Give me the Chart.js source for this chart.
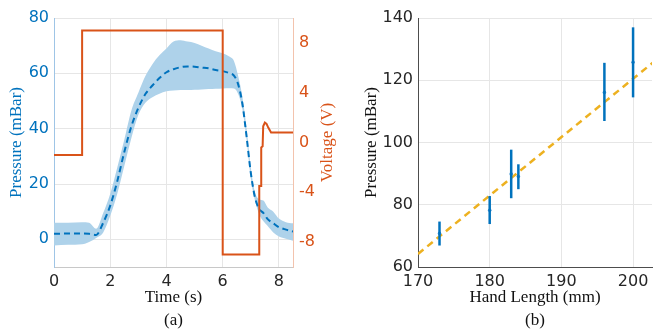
<!DOCTYPE html>
<html>
<head>
<meta charset="utf-8">
<script src="https://cdn.jsdelivr.net/npm/chart.js@4.4.1/dist/chart.umd.min.js"></script>
<style>
  html, body { margin: 0; padding: 0; background: #fff; }
  #wrap { position: relative; width: 656px; height: 330px; overflow: hidden; }
  #chartA { position: absolute; left: 0; top: 0; }
  #chartB { position: absolute; left: 330px; top: 0; }
</style>
</head>
<body>
<div id="wrap">
  <canvas id="chartA" width="345" height="330"></canvas>
  <canvas id="chartB" width="326" height="330"></canvas>
</div>
<script>
// (a) pressure over time, mean with spread band
const time = [0, 0.5, 1.0, 1.25, 1.5, 1.75, 2.0, 2.25, 2.5, 2.75, 3.0, 3.25, 3.5, 3.75, 4.0, 4.25, 4.5, 4.75, 5.0, 5.25, 5.5, 5.75, 6.0, 6.25, 6.4, 6.55, 6.7, 6.85, 7.0, 7.15, 7.3, 7.45, 7.6, 7.8, 8.0, 8.25, 8.5]
const pressureMean = [2.0, 2.1, 2.1, 2.0, 1.6, 6.0, 12.2, 21, 31.6, 40.8, 47.5, 52.5, 55.6, 58.3, 60.4, 61.5, 62.2, 62.5, 62.4, 62.1, 61.8, 61.2, 60.8, 60, 59.2, 56, 49, 37, 24, 15, 11, 9.5, 7.3, 5.8, 4.4, 3.5, 2.8]
const pressureUpper = [6.0, 6.0, 6.2, 6.0, 3.8, 9.5, 16.5, 26, 36, 46.5, 53, 59, 63.3, 66.5, 69, 71.5, 72, 71.5, 71, 70, 69, 68, 67.3, 66, 64.5, 59, 51.5, 40, 26, 17, 14.5, 14, 11.5, 10, 7.5, 6.2, 5.8]
const pressureLower = [-2.2, -2.0, -1.8, -1.0, 0.5, 2.5, 8.5, 16.5, 26.5, 36.5, 45, 49.4, 51.4, 52.6, 53.5, 53.8, 54, 54, 54.1, 54.2, 54.3, 54.4, 54.5, 54.6, 54.5, 52.5, 47, 36, 22, 14, 9, 6.5, 4.8, 2.5, 1.0, 0.2, -0.5]
const voltTime = [0, 1.0, 1.0, 6.0, 6.0, 7.3, 7.3, 7.37, 7.37, 7.42, 7.44, 7.5, 7.56, 7.62, 7.72, 8.5]
const voltage = [-1, -1, 9, 9, -9, -9, -3.5, -3.5, -0.4, -0.3, 1.3, 1.6, 1.5, 1.2, 0.8, 0.8]
const timeTicks = [0, 2, 4, 6, 8]
const pressureTicks = [0, 20, 40, 60, 80]
const voltTicks = [-8, -4, 0, 4, 8]

// (b) pressure against hand length
const handLength = [173, 180, 183, 184, 196, 200]
const pressMean = [70.8, 78.2, 89.9, 89.1, 116.1, 125.8]
const pressLow = [66.9, 73.8, 82.1, 85.0, 106.9, 114.5]
const pressHigh = [74.6, 82.8, 97.7, 93.0, 125.6, 137.0]
const fitLength = [170, 203]
const fitPressure = [64.2, 126.1]
const lengthTicks = [170, 180, 190, 200]
const pressBTicks = [60, 80, 100, 120, 140]

const blue = '#0072BD'
const orange = '#D95319'
const gold = '#EDB120'
const gridColor = '#e6e6e6'
const tickFont = { family: 'DejaVu Sans', size: 16 }
const titleFont = { family: 'Liberation Serif', size: 17, lineHeight: '23px' }

const pts = (xs, ys) => xs.map((x, i) => ({ x, y: ys[i] }))
const setTicks = vals => scale => { scale.ticks = vals.map(v => ({ value: v })) }

const voltTitle = {
  id: 'voltTitle',
  afterDraw (chart) {
    const { ctx, chartArea } = chart
    const s = chart.scales.y1
    ctx.save()
    ctx.translate(s.right - 17, (chartArea.top + chartArea.bottom) / 2)
    ctx.rotate(-Math.PI / 2)
    ctx.font = '17px "Liberation Serif"'
    ctx.fillStyle = orange
    ctx.textAlign = 'center'
    ctx.textBaseline = 'middle'
    ctx.fillText('Voltage (V)', 0, 0)
    ctx.restore()
  }
}

new Chart(document.getElementById('chartA'), {
  type: 'line',
  data: {
    datasets: [
      { data: pts(voltTime, voltage), yAxisID: 'y1', borderColor: orange, borderWidth: 2, pointRadius: 0, tension: 0, order: 0 },
      { data: pts(time, pressureMean), yAxisID: 'y', borderColor: blue, borderWidth: 2, borderDash: [6, 4], pointRadius: 0, cubicInterpolationMode: 'monotone', order: 1 },
      { data: pts(time, pressureUpper), yAxisID: 'y', borderWidth: 0, borderColor: 'rgba(0,0,0,0)', backgroundColor: '#AED2EA', fill: '+1', pointRadius: 0, cubicInterpolationMode: 'monotone', order: 2 },
      { data: pts(time, pressureLower), yAxisID: 'y', borderWidth: 0, borderColor: 'rgba(0,0,0,0)', fill: false, pointRadius: 0, cubicInterpolationMode: 'monotone', order: 3 }
    ]
  },
  options: {
    responsive: false,
    animation: false,
    layout: { padding: { top: 18, left: 0, right: 0, bottom: 0 } },
    plugins: { legend: { display: false }, tooltip: { enabled: false } },
    scales: {
      x: {
        type: 'linear', min: 0, max: 8.5, bounds: 'data',
        afterBuildTicks: setTicks(timeTicks),
        afterFit: s => { s.height = 63 },
        grid: { color: gridColor, drawTicks: false },
        border: { color: '#c8c8c8' },
        ticks: { font: tickFont, color: '#262626', padding: 5 },
        title: { display: true, text: ['Time (s)', '(a)'], font: titleFont, color: '#111', padding: { top: 0, bottom: -2 } }
      },
      y: {
        position: 'left', min: -10, max: 80, bounds: 'data',
        afterBuildTicks: setTicks(pressureTicks),
        afterFit: s => { s.width = 54 },
        grid: { color: gridColor, drawTicks: false },
        border: { color: '#9fc5e6' },
        ticks: { font: tickFont, color: blue, padding: 5 },
        title: { display: true, text: 'Pressure (mBar)', font: { family: 'Liberation Serif', size: 17 }, color: blue, padding: { top: 6 } }
      },
      y1: {
        position: 'right', min: -10, max: 10, bounds: 'data',
        afterBuildTicks: setTicks(voltTicks),
        afterFit: s => { s.width = 52 },
        grid: { drawOnChartArea: false, drawTicks: false },
        border: { color: '#f3c3ad' },
        ticks: { font: tickFont, color: orange, padding: 6 }
      }
    }
  },
  plugins: [voltTitle]
})

const errorBars = handLength.map((x, i) => ({
  data: [{ x, y: pressLow[i] }, { x, y: pressHigh[i] }],
  borderColor: blue, borderWidth: 2.5, pointRadius: 0, order: 0
}))

new Chart(document.getElementById('chartB'), {
  type: 'line',
  data: {
    datasets: [
      ...errorBars,
      { data: pts(handLength, pressMean), showLine: false, pointRadius: 1.8, pointBorderWidth: 0, pointBackgroundColor: '#3d8fd0', order: 0 },
      { data: pts(fitLength, fitPressure), borderColor: gold, borderWidth: 2.5, borderDash: [7, 5], pointRadius: 0, order: 1 }
    ]
  },
  options: {
    responsive: false,
    animation: false,
    layout: { padding: { top: 18, left: 0, right: 0, bottom: 0 } },
    plugins: { legend: { display: false }, tooltip: { enabled: false } },
    scales: {
      x: {
        type: 'linear', min: 170, max: 202.64, bounds: 'data',
        afterBuildTicks: setTicks(lengthTicks),
        afterFit: s => { s.height = 63 },
        grid: { color: gridColor, drawTicks: false },
        border: { color: '#4d4d4d' },
        ticks: { font: tickFont, color: '#262626', padding: 5 },
        title: { display: true, text: ['Hand Length (mm)', '(b)'], font: titleFont, color: '#111', padding: { top: 0, bottom: -2 } }
      },
      y: {
        min: 60, max: 140, bounds: 'data',
        afterBuildTicks: setTicks(pressBTicks),
        afterFit: s => { s.width = 88 },
        grid: { color: gridColor, drawTicks: false },
        border: { color: '#4d4d4d' },
        ticks: { font: tickFont, color: '#262626', padding: 5 },
        title: { display: true, text: 'Pressure (mBar)', font: { family: 'Liberation Serif', size: 17 }, color: '#111', padding: { top: 31 } }
      }
    }
  }
})
</script>
</body>
</html>
